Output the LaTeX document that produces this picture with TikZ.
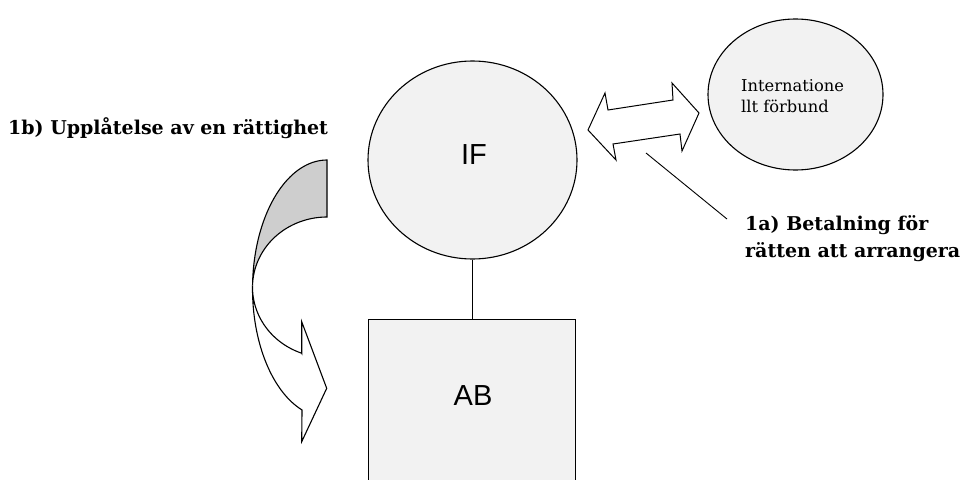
\documentclass[tikz,border=0pt]{standalone}
\usepackage{fontspec}
\usetikzlibrary{shapes.geometric}
\newfontfamily\dvserif{DejaVu Serif}
\newfontfamily\lsans{Liberation Sans}
\definecolor{shapefill}{RGB}{242,242,242}
\definecolor{backgray}{RGB}{206,206,206}
\tikzset{
  outline/.style={draw=black, line width=1.1pt},
  bubble/.style={ellipse, outline, fill=shapefill, inner sep=0pt},
  boldlabel/.style={font=\dvserif\bfseries\fontsize{19}{22}\selectfont, inner sep=0pt, anchor=base west},
  biglabel/.style={font=\lsans\fontsize{29}{34}\selectfont, inner sep=0pt},
  smalllabel/.style={font=\dvserif\fontsize{16.3}{19}\selectfont, inner sep=0pt, anchor=base west},
}
\begin{document}
\begin{tikzpicture}[x=1pt,y=-1pt]
\useasboundingbox (0,0) rectangle (963,479);
% box AB (bottom edge lies below the picture)
\node[outline, fill=shapefill, rectangle, minimum width=207pt, minimum height=180pt, anchor=north west, inner sep=0pt] (AB) at (368,319) {};
\node[biglabel] (ABt) at (473,396) {AB};
% IF circle
\node[bubble, minimum width=209pt, minimum height=198pt] (IF) at (472.5,160) {};
\node[biglabel] (IFt) at (474,155) {IF};
\draw[line width=0.9pt] (IF.south) -- (IF.south |- AB.north);
% international circle
\node[bubble, minimum width=175pt, minimum height=151pt] (INT) at (795.5,94.5) {};
\node[smalllabel] (INTa) at (741,91) {Internatione};
\node[smalllabel] (INTb) at (741,112) {llt förbund};
% double arrow
\draw[outline, fill=white, line width=1pt, line join=miter]
  (588,130) -- (605,93) -- (608,110) -- (673,100) -- (672,83) -- (699,113)
  -- (682,151) -- (680,134) -- (613,144) -- (616,160) -- cycle;
% pointer line to label 1a
\coordinate (p1) at (646,153);
\coordinate (p2) at (727,219);
\draw[line width=0.9pt] (p1) -- (p2);
\node[boldlabel] (L1a) at (745,230) {1a) Betalning för};
\node[boldlabel] (L1b) at (745,257) {rätten att arrangera};
% label 1b
\node[boldlabel] (L2) at (8,134) {1b) Upplåtelse av en rättighet};
% curved arrow: back (gray) part
\filldraw[outline, fill=backgray]
  (327,160) -- plot[domain=90:178.5, samples=40] ({327+74.5*cos(\x)},{288.7-128.7*sin(\x)})
  -- plot[domain=178.5:90, samples=40] ({327+74.5*cos(\x)},{287.2-70.2*sin(\x)})
  -- cycle;
% curved arrow: front (white) part
\filldraw[outline, fill=white, line join=miter]
  plot[domain=178.5:250.4, samples=40] ({327+74.5*cos(\x)},{288.7-128.7*sin(\x)})
  -- (301.7,441.7) -- (326.7,388.3) -- (301.7,321.7) -- (301.7,353.3)
  -- plot[domain=250.1:178.5, samples=40] ({327+74.5*cos(\x)},{287.2-70.2*sin(\x)})
  -- cycle;
\end{tikzpicture}
\end{document}
